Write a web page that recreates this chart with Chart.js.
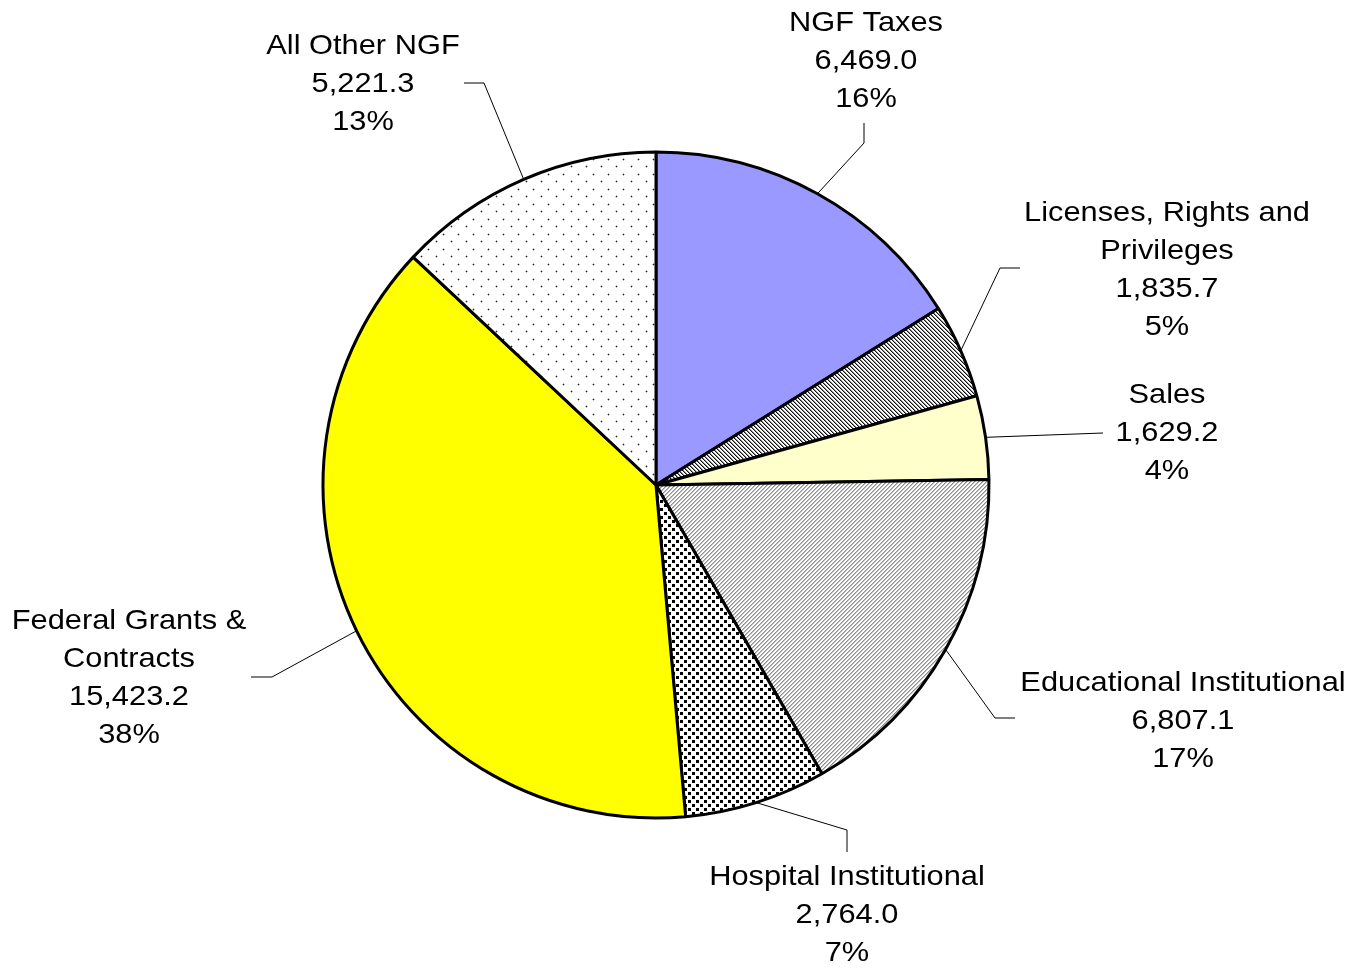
<!DOCTYPE html>
<html>
<head>
<meta charset="utf-8">
<script src="https://cdn.jsdelivr.net/npm/chart.js@4.4.1/dist/chart.umd.min.js"></script>
<style>
  html, body { margin: 0; padding: 0; background: #fff; }
  canvas { display: block; }
</style>
</head>
<body>
<canvas id="revenuePie" width="1353" height="968"></canvas>
<script>
// slice data, clockwise from 12 o'clock
const categories = ['NGF Taxes', ['Licenses, Rights and', 'Privileges'], 'Sales', 'Educational Institutional',
  'Hospital Institutional', ['Federal Grants &', 'Contracts'], 'All Other NGF']
const amounts = [6469.0, 1835.7, 1629.2, 6807.1, 2764.0, 15423.2, 5221.3]

// label placement: text centre x, first line y, then leader bend points
const labelLayout = [
  { x: 866, y: 23, path: [[864, 143], [864, 123]] },
  { x: 1167, y: 213, path: [[1000, 268], [1020, 268]] },
  { x: 1167, y: 395, path: [[1103, 433]] },
  { x: 1183, y: 683, path: [[995, 718], [1015, 718]] },
  { x: 847, y: 877, path: [[847, 830], [847, 852]] },
  { x: 129, y: 621, path: [[272, 677], [251, 677]] },
  { x: 363, y: 46, path: [[484, 83], [464, 83]] }
]

const canvas = document.getElementById('revenuePie')
const ctx = canvas.getContext('2d')

function makePattern(size, paint) {
  const tile = document.createElement('canvas')
  tile.width = size
  tile.height = size
  const g = tile.getContext('2d')
  g.fillStyle = '#fff'
  g.fillRect(0, 0, size, size)
  paint(g)
  return ctx.createPattern(tile, 'repeat')
}

function px(g, x, y, color, w = 1, h = 1) {
  g.fillStyle = color
  g.fillRect(x, y, w, h)
}

// dark downward diagonal
const licensePattern = makePattern(4, g => {
  for (let i = 0; i < 4; i++) {
    px(g, i, i, '#111')
    px(g, (i + 1) % 4, i, '#8c8c8c')
  }
})

// light upward diagonal
const eduPattern = makePattern(4, g => {
  for (let i = 0; i < 4; i++) {
    px(g, 3 - i, i, '#8f8f8f')
    px(g, (4 - i) % 4, i, '#bdbdbd')
  }
})

// dense dots
const hospitalPattern = makePattern(8, g => {
  px(g, 0, 0, '#000', 3, 3)
  px(g, 4, 4, '#000', 3, 3)
})

// sparse dots
const otherPattern = makePattern(15, g => {
  px(g, 1, 1, '#222')
  px(g, 0, 1, '#bbb'); px(g, 2, 1, '#bbb'); px(g, 1, 0, '#bbb'); px(g, 1, 2, '#bbb')
  px(g, 8, 9, '#222')
  px(g, 7, 9, '#bbb'); px(g, 9, 9, '#bbb'); px(g, 8, 8, '#bbb'); px(g, 8, 10, '#bbb')
})

const sliceFills = ['#9999FF', licensePattern, '#FFFFCC', eduPattern, hospitalPattern, '#FFFF00', otherPattern]

const total = amounts.reduce((a, b) => a + b, 0)
const numFmt = new Intl.NumberFormat('en-US', { minimumFractionDigits: 1, maximumFractionDigits: 1 })

const lineGap = 38
const textScaleX = 1.1

const sliceLabels = {
  id: 'sliceLabels',
  afterDatasetsDraw(chart) {
    const c = chart.ctx
    const arcs = chart.getDatasetMeta(0).data
    c.save()
    c.strokeStyle = '#000'
    c.lineWidth = 1
    c.fillStyle = '#000'
    c.font = "28px 'Liberation Sans', Arial, sans-serif"
    c.textAlign = 'center'
    c.textBaseline = 'middle'
    arcs.forEach((arc, i) => {
      const p = arc.getProps(['x', 'y', 'startAngle', 'endAngle', 'outerRadius'], true)
      const mid = (p.startAngle + p.endAngle) / 2
      const sx = p.x + Math.cos(mid) * p.outerRadius
      const sy = p.y + Math.sin(mid) * p.outerRadius
      const lay = labelLayout[i]

      c.beginPath()
      c.moveTo(sx, sy)
      lay.path.forEach(pt => c.lineTo(pt[0], pt[1]))
      c.stroke()

      const pct = Math.round(amounts[i] / total * 100)
      const lines = [].concat(categories[i], numFmt.format(amounts[i]), pct + '%')
      lines.forEach((t, k) => {
        c.save()
        c.translate(lay.x, lay.y + k * lineGap)
        c.scale(textScaleX, 1)
        c.fillText(t, 0, 0)
        c.restore()
      })
    })
    c.restore()
  }
}

new Chart(canvas, {
  type: 'pie',
  data: {
    labels: categories,
    datasets: [{
      data: amounts,
      backgroundColor: sliceFills,
      borderColor: '#000',
      borderWidth: 3,
      radius: 333
    }]
  },
  options: {
    responsive: false,
    animation: false,
    layout: {
      padding: { left: 0, right: 41, top: 2, bottom: 0 }
    },
    plugins: {
      legend: { display: false },
      tooltip: { enabled: false }
    }
  },
  plugins: [sliceLabels]
})
</script>
</body>
</html>
